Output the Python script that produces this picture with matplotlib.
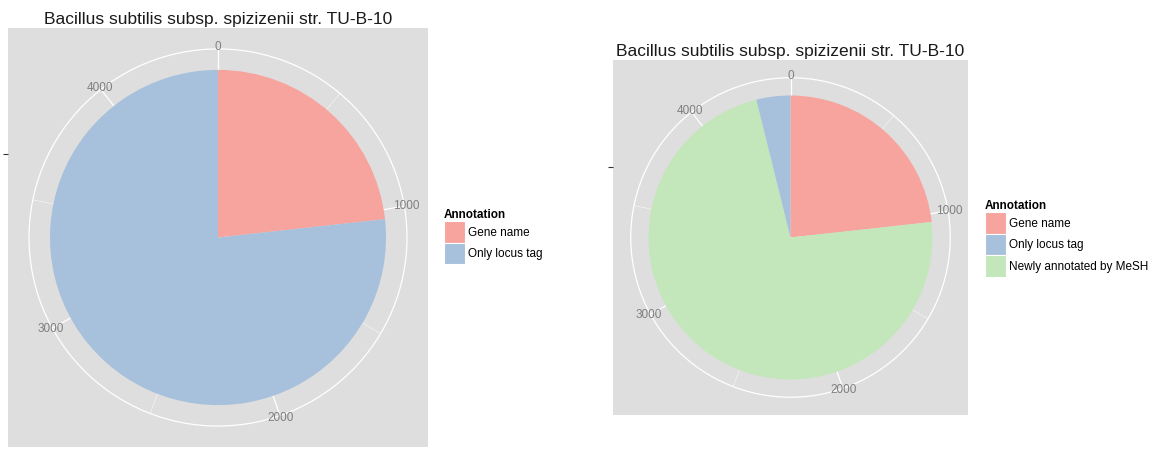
import matplotlib
matplotlib.use("Agg")
import matplotlib.pyplot as plt
import numpy as np
from matplotlib.patches import Circle, Patch

plt.rcParams['font.family'] = ['Liberation Sans', 'DejaVu Sans']

title = "Bacillus subtilis subsp. spizizenii str. TU-B-10"
legend_title = "Annotation"

# slices in drawing order (clockwise from top)
left_labels = ["Gene name", "Only locus tag"]
left_values = [1041, 3435]

right_labels = ["Gene name", "Newly annotated by MeSH", "Only locus tag"]
right_values = [1041, 3262, 173]

# legend order
legend_left = ["Gene name", "Only locus tag"]
legend_right = ["Gene name", "Only locus tag", "Newly annotated by MeSH"]

theta_breaks = [0, 1000, 2000, 3000, 4000]
theta_minor = [500, 1500, 2500, 3500]

colors = {
    "Gene name": "#F7A39E",
    "Only locus tag": "#A7C0DC",
    "Newly annotated by MeSH": "#C3E7BB",
}

W, H = 1161, 455
fig = plt.figure(figsize=(W / 100, H / 100), dpi=100)


def px_axes(x0, y0, x1, y1):
    return fig.add_axes([x0 / W, 1 - y1 / H, (x1 - x0) / W, (y1 - y0) / H])


def draw_panel(ax, labels, values):
    total = sum(values)
    ax.set_facecolor("#DEDEDE")
    for v in theta_minor:
        a = np.pi / 2 - 2 * np.pi * v / total
        ax.plot([0, 0.45 * np.cos(a)], [0, 0.45 * np.sin(a)], color="#F4F4F4", lw=0.5, zorder=1)
    for v in theta_breaks:
        a = np.pi / 2 - 2 * np.pi * v / total
        ax.plot([0, 0.45 * np.cos(a)], [0, 0.45 * np.sin(a)], color="white", lw=0.9, zorder=1)
        ax.text(0.455 * np.cos(a), 0.455 * np.sin(a), str(v), ha="center", va="center",
                fontsize=8.5, color="#7F7F7F", zorder=3)
    ax.add_patch(Circle((0, 0), 0.45, fill=False, ec="white", lw=0.9, zorder=1))
    ax.pie(values, colors=[colors[l] for l in labels], startangle=90, counterclock=False,
           radius=0.4, center=(0, 0), wedgeprops=dict(linewidth=0, zorder=2), frame=True)
    ax.set_aspect("auto")
    ax.set_xlim(-0.5, 0.5)
    ax.set_ylim(-0.5, 0.5)
    ax.set_xticks([])
    ax.set_yticks([0.2])
    ax.set_yticklabels([""])
    ax.tick_params(axis="y", length=3.5, width=0.8, color="#333333")
    for s in ax.spines.values():
        s.set_visible(False)
    ax.set_title(title, fontsize=12.5, pad=3, color="#1A1A1A")


def add_legend(names, x, y):
    handles = [Patch(facecolor=colors[n], edgecolor="white", linewidth=0.8) for n in names]
    fig.legend(handles, names, title=legend_title, loc="upper left",
               bbox_to_anchor=(x / W, 1 - y / H), frameon=False, fontsize=8.5,
               title_fontproperties={"weight": "bold", "size": 8.5},
               alignment="left", borderpad=0, borderaxespad=0,
               handlelength=1.8, handleheight=2.4, labelspacing=0.02,
               handletextpad=0.25)


ax1 = px_axes(8, 28, 428, 447)
draw_panel(ax1, left_labels, left_values)
add_legend(legend_left, 444, 209)

ax2 = px_axes(613, 60, 968, 415)
draw_panel(ax2, right_labels, right_values)
add_legend(legend_right, 985, 200)

fig.savefig("out.png", dpi=100)
